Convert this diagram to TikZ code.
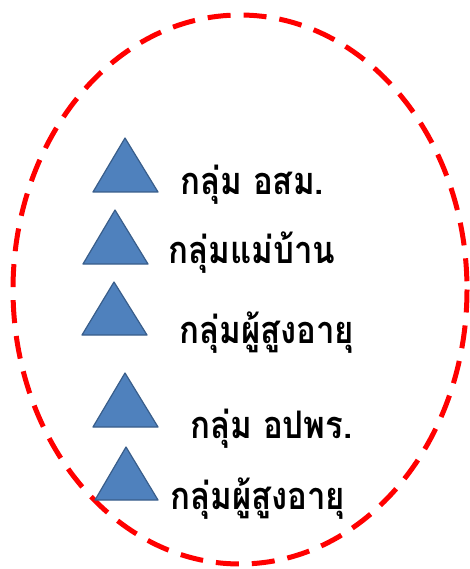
\documentclass[tikz,border=0pt]{standalone}
\usepackage{fontspec}
\usepackage{graphicx}
\newfontfamily\thaifont[Script=Thai]{Loma}
\newcommand{\tallthai}[1]{\scalebox{1}[1.15]{#1}}
\definecolor{triFill}{HTML}{4F81BD}
\definecolor{triLine}{HTML}{385D8A}
\definecolor{ringRed}{HTML}{FF0000}
\begin{document}
\begin{tikzpicture}[x=1pt,y=-1pt,
  ring/.style={draw=ringRed,line width=5pt,dash pattern=on 23pt off 13pt},
  tri/.style={fill=triFill,draw=triLine,line width=1.2pt,line join=round},
  lbl/.style={anchor=base west,inner sep=0pt,font=\thaifont\bfseries\fontsize{33}{33}\selectfont}]
\useasboundingbox (0,0) rectangle (470,569);
\draw[ring] (240,289.5) ellipse [x radius=227, y radius=274.5];
% triangles
\draw[tri] (125,138) -- (158,192) -- (93,192) -- cycle;
\draw[tri] (115,210) -- (148,264) -- (83,264) -- cycle;
\draw[tri] (114,282) -- (147,335) -- (82,335) -- cycle;
\draw[tri] (125,373) -- (158,427) -- (93,427) -- cycle;
\draw[tri] (126,447) -- (158,500) -- (95,500) -- cycle;
% labels
\node[lbl] (t1) at (180,194) {\tallthai{กลุ่ม อสม.}};
\node[lbl] (t2) at (168,263) {\tallthai{กลุ่มแม่บ้าน}};
\node[lbl] (t3) at (179,343) {\tallthai{กลุ่มผู้สูงอายุ}};
\node[lbl] (t4) at (190,438) {\tallthai{กลุ่ม อปพร.}};
\node[lbl] (t5) at (170,509) {\tallthai{กลุ่มผู้สูงอายุ}};
\end{tikzpicture}
\end{document}
